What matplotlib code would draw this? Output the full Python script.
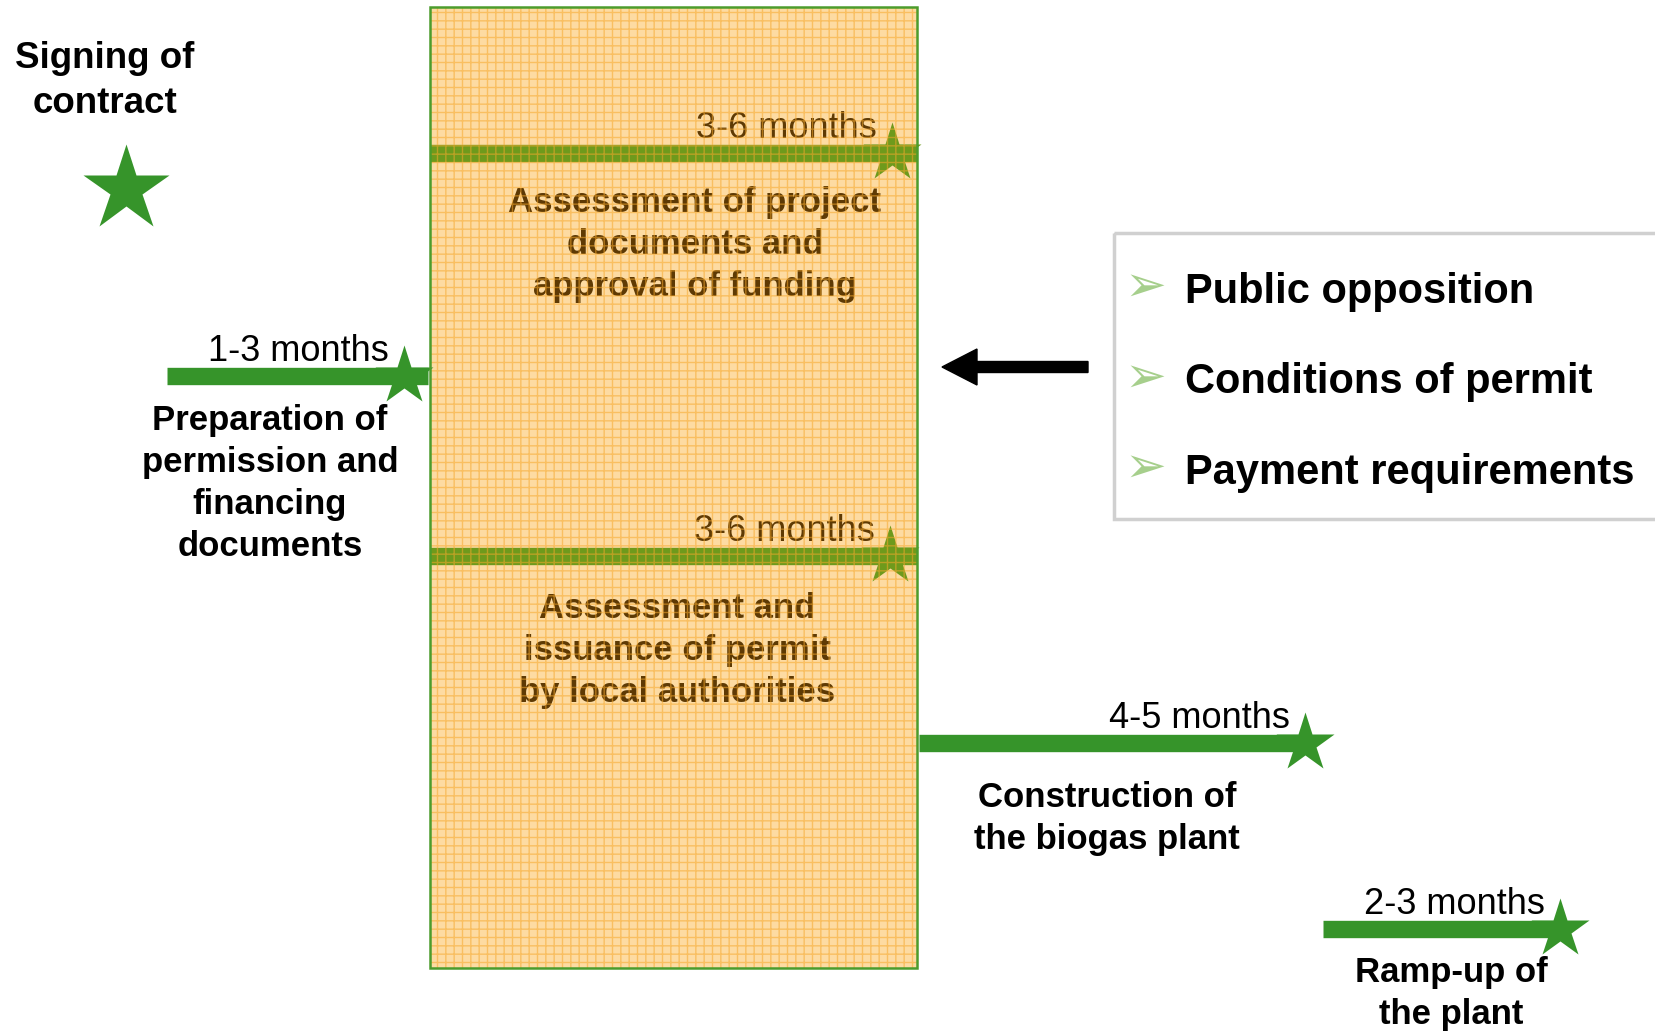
import matplotlib
matplotlib.use('Agg')
import matplotlib.pyplot as plt
from matplotlib.patches import Rectangle, FancyArrow

plt.rcParams['font.family'] = ['Liberation Sans', 'DejaVu Sans']
plt.rcParams['hatch.linewidth'] = 1.0

# %%
# phases of the project timeline
durations = ['1-3 months', '3-6 months', '3-6 months', '4-5 months', '2-3 months']
descriptions = [
    ['Preparation of', 'permission and', 'financing', 'documents'],
    ['Assessment of project', 'documents and', 'approval of funding'],
    ['Assessment and', 'issuance of permit', 'by local authorities'],
    ['Construction of', 'the biogas plant'],
    ['Ramp-up of', 'the plant'],
]
start_label = ['Signing of', 'contract']
risks = ['Public opposition', 'Conditions of permit', 'Payment requirements']

# layout in pixel units (x start, x end, bar y, label x, first label baseline)
bar_x0 = [167, 430, 430, 919, 1323]
bar_x1 = [428, 917, 917, 1309, 1563]
star_x = [404, 892, 890, 1305, 1560]
bar_y = [376, 153, 556, 743, 929]
label_x = [270, 695, 677, 1107, 1451]
label_y0 = [430, 212, 618, 807, 982]
in_box = [False, True, True, False, False]

green = '#36942a'
olive = '#6e9a1c'
brown = '#5e3a04'

fig = plt.figure(figsize=(16.56, 10.32), dpi=100)
ax = fig.add_axes([0, 0, 1, 1])
ax.set_xlim(0, 1656)
ax.set_ylim(1032, 0)
ax.axis('off')

# the long approval box
box = (430, 7, 487, 961)
ax.add_patch(Rectangle(box[:2], box[2], box[3], facecolor='#fddba2',
                       edgecolor='none', zorder=1))
ax.add_patch(Rectangle(box[:2], box[2], box[3], fill=False, hatch='++',
                       edgecolor='#f6a82c', lw=0, alpha=0.55, zorder=5))
ax.add_patch(Rectangle(box[:2], box[2], box[3], fill=False,
                       edgecolor='#4c9c2c', lw=1.8, zorder=6))

# signing of contract
ax.plot([126], [189], marker='*', ms=65, color=green, mec='none', zorder=3)
for i, line in enumerate(start_label):
    ax.text(105, 68 + i * 45, line, ha='center', va='baseline',
            fontsize=26.5, fontweight='bold', color='black')

for i in range(len(durations)):
    c = olive if in_box[i] else green
    tc = brown if in_box[i] else 'black'
    ax.plot([bar_x0[i], bar_x1[i]], [bar_y[i], bar_y[i]], color=c, lw=12.5,
            solid_capstyle='butt', zorder=2)
    ax.plot([star_x[i]], [bar_y[i]], marker='*', ms=44, color=c, mec='none',
            zorder=3)
    ax.text(star_x[i] - 15, bar_y[i] - 15, durations[i], ha='right',
            va='baseline', fontsize=26, color=tc, zorder=4)
    for j, line in enumerate(descriptions[i]):
        ax.text(label_x[i], label_y0[i] + j * 42, line, ha='center',
                va='baseline', fontsize=25, fontweight='bold', color=tc,
                zorder=4)

# arrow pointing at the box
ax.add_patch(FancyArrow(1088, 367, -146, 0, width=11, head_width=36,
                        head_length=35, length_includes_head=True,
                        color='black', zorder=3))

# risks box
ax.add_patch(Rectangle((1114, 233), 560, 286, fill=False,
                       edgecolor='#d0d0d0', lw=2.5, zorder=2))
for i, r in enumerate(risks):
    y = 303 + i * 90.5
    ax.text(1145, y - 16, '\u27a2', ha='center', va='center', fontsize=36,
            color='#a6cf8c', family='DejaVu Sans', zorder=3)
    ax.text(1185, y, r, ha='left', va='baseline', fontsize=30,
            fontweight='bold', color='black', zorder=3)

fig.savefig('out.png', dpi=100)
